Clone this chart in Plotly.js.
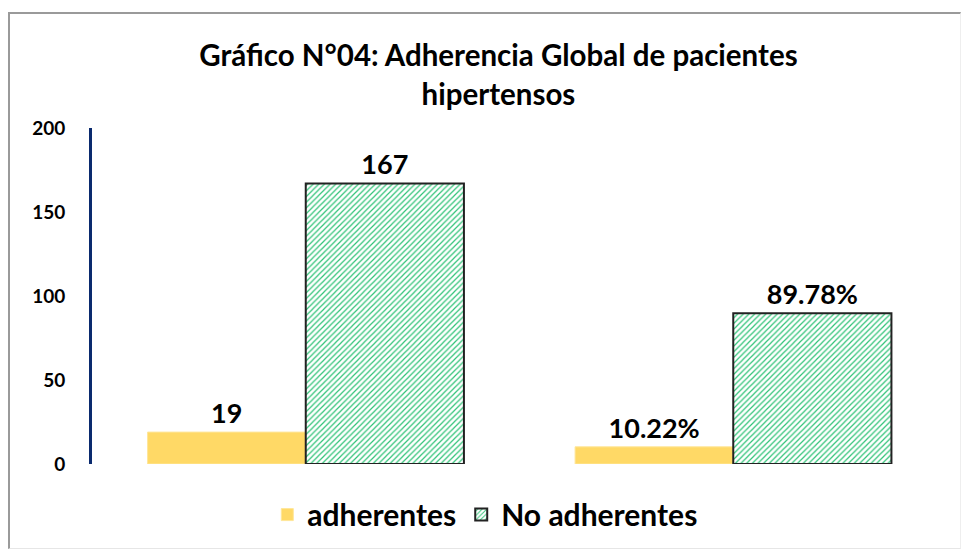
<!DOCTYPE html>
<html>
<head>
<meta charset="utf-8">
<script src="https://cdn.plot.ly/plotly-3.0.1.min.js"></script>
<style>
  html, body { margin: 0; padding: 0; background: #ffffff; }
  #wrap { position: relative; width: 966px; height: 552px; }
  #chart { position: absolute; left: 0; top: 0; width: 966px; height: 552px; }
  #frame { position: absolute; left: 8px; top: 12px; width: 950px; height: 534px;
           border-left: 2px solid #9a9a9a; border-top: 2px solid #9a9a9a;
           border-right: 1px solid #eeeeee; border-bottom: 1px solid #e6e6e6;
           pointer-events: none; }
</style>
</head>
<body>
<div id="wrap">
  <div id="chart"></div>
  <div id="frame"></div>
</div>
<script>
// Data
const categories = ["Frecuencia", "Porcentaje"];
const adherentes = [19, 10.22];
const noAdherentes = [167, 89.78];
const adherentesLabels = ["19", "10.22%"];
const noAdherentesLabels = ["167", "89.78%"];
const yTicks = [0, 50, 100, 150, 200];
const seriesNames = ["adherentes", "No adherentes"];

const FONT = "Lato, 'Open Sans', 'DejaVu Sans', sans-serif";

const traces = [
  {
    type: "bar",
    name: seriesNames[0],
    x: categories,
    y: adherentes,
    text: adherentesLabels,
    textposition: "outside",
    cliponaxis: false,
    textfont: { family: FONT, size: 27, color: "#000000", weight: "bold" },
    marker: { color: "#FFD966", line: { color: "#FFE699", width: 1 } },
    hoverinfo: "skip"
  },
  {
    type: "bar",
    name: seriesNames[1],
    x: categories,
    y: noAdherentes,
    text: noAdherentesLabels,
    textposition: "outside",
    cliponaxis: false,
    textfont: { family: FONT, size: 27, color: "#000000", weight: "bold" },
    marker: {
      color: "#ffffff",
      line: { color: "#222222", width: 2 },
      pattern: { shape: "/", fgcolor: "#2fc377", bgcolor: "#ffffff", size: 4, solidity: 0.3 }
    },
    hoverinfo: "skip"
  }
];

const layout = {
  width: 966,
  height: 552,
  paper_bgcolor: "#ffffff",
  plot_bgcolor: "#ffffff",
  margin: { l: 92, r: 19, t: 128, b: 87 },
  font: { family: FONT, color: "#000000" },
  title: {
    text: "<b>Gráfico N°04: Adherencia Global de pacientes<br>hipertensos</b>",
    font: { family: FONT, size: 29.5, color: "#000000" },
    x: 0.516,
    xanchor: "center",
    y: 0.88,
    yanchor: "top"
  },
  barmode: "group",
  bargap: 0.26,
  bargroupgap: 0,
  showlegend: true,
  legend: {
    orientation: "h",
    x: 0.46,
    xanchor: "center",
    y: -0.07,
    yanchor: "top",
    font: { family: FONT, size: 30, color: "#000000", weight: "bold" },
    itemwidth: 30,
    traceorder: "normal"
  },
  xaxis: {
    showticklabels: false,
    showline: false,
    showgrid: false,
    zeroline: false,
    ticks: ""
  },
  yaxis: {
    range: [0, 200],
    tickvals: yTicks,
    ticktext: yTicks.map(String),
    showgrid: false,
    zeroline: false,
    showline: true,
    linecolor: "#0a2a6e",
    linewidth: 3,
    ticks: "",
    ticklabelstandoff: 20,
    tickfont: { family: FONT, size: 19, color: "#000000", weight: "bold" }
  }
};

Plotly.newPlot("chart", traces, layout, { displayModeBar: false, staticPlot: true });
</script>
</body>
</html>
